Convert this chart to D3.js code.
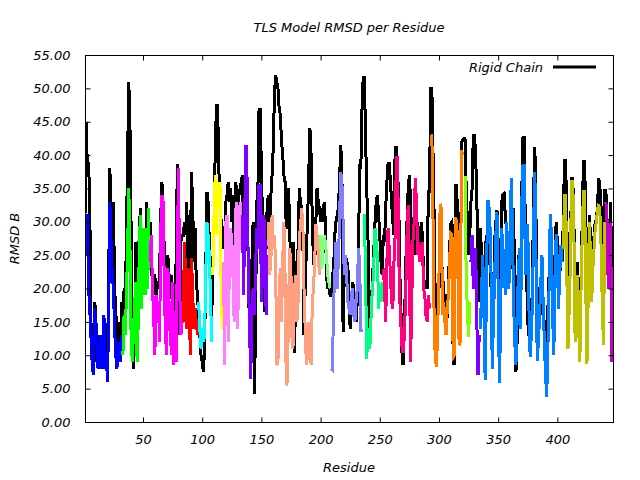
<!DOCTYPE html>
<html>
<head>
<meta charset="utf-8">
<script src="https://cdn.jsdelivr.net/npm/d3@7"></script>
<style>
  body { margin: 0; background: #fff; }
  text { font-family: "DejaVu Sans", sans-serif; font-style: italic; font-size: 13px; fill: #000; }
</style>
</head>
<body>
<svg id="chart" width="640" height="480"></svg>
<script>
// residue numbers 1..447
var residues = d3.range(1, 448)

// rigid chain RMSD (black line), one value per residue, one line per TLS group span
var rigidRmsd = [
  31,45,38,39,33,15,12,10,18,17, 9,13,8,11,10,13,8,11,8,10, 21,38,31,25,33,20,17,11,15,14, 11,18,
  14,20,17,28,40,51,44,28,13,8, 15,27,16,22,30,32,18,24,26,20, 33,24,27,
  30,25,20,22,22,19,21,20,22,31, 36,30,26,18,22,25,22,20,22,15, 16,14,25,38.7,22,13,27,28,
  28,30,28,33,22,18,25,37.5,32,24, 29,21,19,
  16,13,10,9,7.5,11,23,34.5,33,27,20,15,
  24,31,40.5,47.5,47.5,38,34,30,27,
  26,28,33,34,36,33,35,30,34,24, 36,35,26,34,35,36,
  37,28,33,41,34,22,13,13,24,30, 4.2,13,33,34,46.8,46.8,37.7,30,29,16.5, 27,33,
  34,28,34,37,41,49,52,51,50,47, 46,42,40,37,36,29,33,35,28,22, 20,27,10.3,20,24,26,35,33,32,28, 13,20,26,30,37,44,40,30,24,23, 30,35,33,32,
  30,32,30,33,30,22,20,21,19,
  19,22,23,28,30,31,32,36,41.5,38, 13.5,22,25,24,23.7,18,14,18,21,20, 17,15,18,25,38.7,38,47,
  51.7,51.7,42.5,35,28,14,15,18,22,26, 30,33,34,31,28,24,22,
  28,27,32,36,38.7,38.7,36,33,30,28, 41.2,41.2,38,33,22,16,8.7,8.7,16,24, 30,35,37,33,27,26,25,30,28,30, 27,26,30,28,22,20,21,20,34.5,34.5,
  50,50,40,30,16,13,16,20,25,24.7, 22,20,17,14,16,21,26,29.7,30,8.7, 8.7,35.5,35.5,27,20,14,42,42.2,
  42.5,42.5,35,30,25,28,
  33,35,43,43,40,33,25,18,
  29,25,18,22,25,28,26,29,24,20, 13,18,27,30,31.7,27,16,22,33,34, 34.2,31,29,28,27,25,23,28,32,20,
  7.5,12,25,22,18,35,42.7,42.7,28,22, 15,13,12,15,21,35,41.2,30,18,17, 20,19,17,16,15,14,12,17,22,25,
  26,21,17,25,30,27,20,22,25,24,
  30,39.2,39.2,30,20,22,26,36.5,36.5,30, 16,20,24,15,9,22,30,39,39,31, 20,24,31,28,22,25,28,30,30,33, 36.5,35,32,28,26,34.7,
  34.7,30,24,28,33,22,10
]

// TLS group RMSD (coloured segments), one value per residue
var tlsRmsd = [
  25,31,31,20,17,13,9,7,17,16, 12,8,10,13,8,9,16,8,10,6, 16,33,27,22,20,14,10,8,12,10, 9,13,
  10,16,13,19,26,35,26,12,9,14, 18,21,9,15,28,31,17,29,27,19, 29,20,32,
  24,28,20,16,10,19,15,18,12,29, 34,33,20,13,10,23,18,14,10,21, 8.5,14,9,25,38,20,13,15,
  15,27,22,14,23,18,10,24.5,19,14, 17,15,13,
  18,14,11,14,12,13,22,30,28,25,19,12,
  22,31,37,28,36,32,36,20,14,
  24,8.5,30,31,12,24,29,27,22,15, 31,33,14,25,33,27,
  31,19,32,41.5,36,22,14,6.5,17,20, 16,22,29,26,35.5,35.5,18,22,31,28, 16,25,
  30,22,24,31,26,28,24,8.5,9,20, 23,15,24,30,22,5.5,6,18,26,22, 11,11.5,20,22,15,18,28,29,32,30, 20,14,8.5,10,15,12,8.5,18,20,24, 29.7,28,26,22,
  28,23,26,28,27,25,22,21,20,
  8,7.8,18,22,27,20,24,30,37.5,36, 30,22,25,22,18,17,16,19,20,16, 15,18,20,26,24,13.5,14,
  31,31,22,9.5,14,11,12,18,20,24, 29,27,25,17,20,18,21,
  23,20,15,24,29,26,22,18,17,24, 28,39.7,39.7,25,18,14,10.5,10.5,14,20, 28,32.5,24,9,18,27,30,36.5,33,25, 27,24,26,27,20,19,16,15,19,17,
  43,43,30,14,9,8.3,14.7,22,32.7,32, 16,18,15,13,17,19,24,28.2,28,9.7, 10,30.7,30,25,11.5,12,40.7,40,
  36.7,36.7,22,16.7,12.7,18,
  24,28,20,22,26,15,7,13,
  14,20,25,16,6.3,18,33,33,30,22, 8,15,22,28,31.5,20,5.8,14,29,26, 24,19,30,27,20,25,36.5,30,18,12,
  8.5,15,22,26,14,33,38.5,38.5,22,27, 29.7,17,9.8,13,18,30,37.5,24,9.2,12, 16,21,25,18,12,7,3.8,11,20,31.2,
  28,16,10,21,28.2,24,17,22,26.5,24,
  26,34,34,22,11,17,24,36,36,28, 12,16,22,14,9,20,28,34.5,34.5,20, 8.7,18,30,25,18,23,26,29,30,32, 32.7,31,26,17,11.5,30,
  33,30,20,24,30,9,18
]

// TLS group boundaries (first residue of each group) and colours
var groupStarts = [1, 33, 56, 84, 97, 109, 118, 134, 156, 200, 209, 236, 253, 293, 321, 327, 335, 405, 441]
var groupColors = ["#0000ff", "#00ff00", "#ff00ff", "#ff0000", "#00ffff", "#ffff00", "#ff80ff", "#8000ff",
                   "#ffa080", "#80ff80", "#8080ff", "#00ff80", "#ff0080", "#ff8000", "#80ff00", "#8000ff",
                   "#0080ff", "#c0c000", "#c000c0"]

var xTicks = [50, 100, 150, 200, 250, 300, 350, 400]
var yTicks = [0, 5, 10, 15, 20, 25, 30, 35, 40, 45, 50, 55]

var dimensions = {
    width: 640,
    height: 480,
    margin: { top: 55, bottom: 58, right: 27, left: 85 }
}

var svg = d3.select("#chart")

var xScale = d3.scaleLinear()
        .domain([1, 447])
        .range([dimensions.margin.left, dimensions.width - dimensions.margin.right])

var yScale = d3.scaleLinear()
        .domain([0, 55])
        .range([dimensions.height - dimensions.margin.bottom, dimensions.margin.top])

var x0 = xScale.range()[0], x1 = xScale.range()[1]
var y0 = yScale.range()[0], y1 = yScale.range()[1]

// data lines, clipped to the plot box
svg.append("clipPath").attr("id", "clip")
    .append("rect").attr("x", x0).attr("y", y1).attr("width", x1 - x0).attr("height", y0 - y1)

var plot = svg.append("g")
        .attr("clip-path", "url(#clip)")
        .attr("shape-rendering", "crispEdges")

var line = d3.line()
        .x(d => xScale(d[0]))
        .y(d => yScale(d[1]))

var rigidPts = residues.map((r, i) => [r, rigidRmsd[i]])
plot.append("path")
    .attr("d", line(rigidPts))
    .attr("fill", "none")
    .attr("stroke", "black")
    .attr("stroke-width", 3)

groupStarts.forEach(function(start, g){
    var end = g < groupStarts.length - 1 ? groupStarts[g + 1] : 448
    var pts = residues.map((r, i) => [r, tlsRmsd[i]]).filter(d => d[0] >= start && d[0] < end)
    plot.append("path")
        .attr("d", line(pts))
        .attr("fill", "none")
        .attr("stroke", groupColors[g])
        .attr("stroke-width", 3)
})

// frame with mirrored inward ticks
var frame = svg.append("g").attr("stroke", "black").attr("stroke-width", 1).attr("shape-rendering", "crispEdges")
frame.append("rect").attr("x", x0 + 0.5).attr("y", y1 + 0.5).attr("width", x1 - x0).attr("height", y0 - y1).attr("fill", "none")

var xAxisGen = d3.axisBottom(xScale).tickValues(xTicks).tickSizeInner(-5).tickSizeOuter(0).tickPadding(12)
var xAxis = svg.append("g")
        .attr("transform", `translate(0,${y0 + 0.5})`)
        .call(xAxisGen)
xAxis.select(".domain").remove()

var xAxisTop = svg.append("g")
        .attr("transform", `translate(0,${y1 + 0.5})`)
        .call(d3.axisTop(xScale).tickValues(xTicks).tickSizeInner(-5).tickSizeOuter(0).tickFormat(""))
xAxisTop.select(".domain").remove()

var yAxisGen = d3.axisLeft(yScale).tickValues(yTicks).tickFormat(d3.format(".2f")).tickSizeInner(-5).tickSizeOuter(0).tickPadding(15)
var yAxis = svg.append("g")
        .attr("transform", `translate(${x0 + 0.5},0)`)
        .call(yAxisGen)
yAxis.select(".domain").remove()

var yAxisRight = svg.append("g")
        .attr("transform", `translate(${x1 + 0.5},0)`)
        .call(d3.axisRight(yScale).tickValues(yTicks).tickSizeInner(-5).tickSizeOuter(0).tickFormat(""))
yAxisRight.select(".domain").remove()

svg.selectAll(".tick text")
    .style("font-family", "DejaVu Sans, sans-serif")
    .style("font-style", "italic")
    .style("font-size", "13px")
    .attr("fill", "black")

// titles
svg.append("text")
    .attr("x", (x0 + x1) / 2)
    .attr("y", 32)
    .attr("text-anchor", "middle")
    .text("TLS Model RMSD per Residue")

svg.append("text")
    .attr("x", (x0 + x1) / 2)
    .attr("y", 472)
    .attr("text-anchor", "middle")
    .text("Residue")

svg.append("text")
    .attr("transform", "rotate(-90)")
    .attr("x", -(y0 + y1) / 2)
    .attr("y", 19)
    .attr("text-anchor", "middle")
    .text("RMSD B")

// legend
svg.append("text")
    .attr("x", 543)
    .attr("y", 72)
    .attr("text-anchor", "end")
    .text("Rigid Chain")
svg.append("line")
    .attr("x1", 553).attr("x2", 596)
    .attr("y1", 67).attr("y2", 67)
    .attr("stroke", "black")
    .attr("stroke-width", 3)
</script>
</body>
</html>
